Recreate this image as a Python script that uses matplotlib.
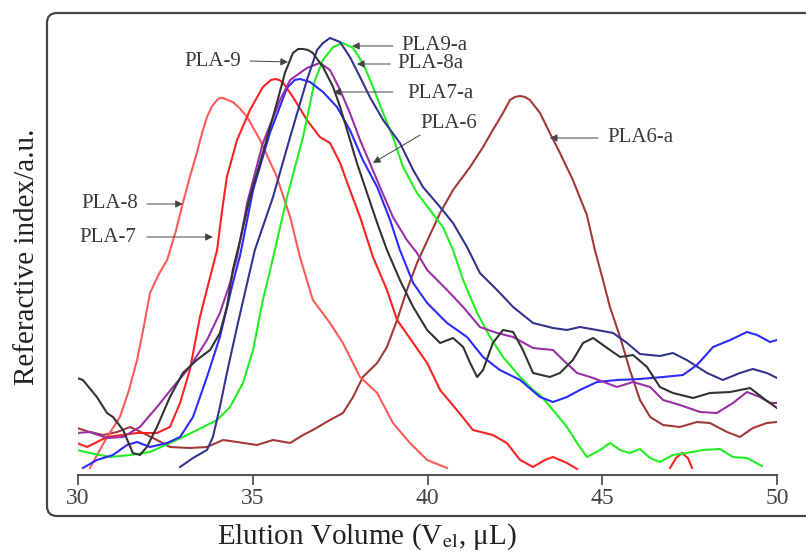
#!/usr/bin/env python3
"""
GPC elution curves of PLA samples (refractive index vs elution volume)
Output: out.png
"""

import numpy as np
import matplotlib
matplotlib.use("Agg")
import matplotlib.pyplot as plt
from matplotlib.patches import FancyBboxPatch

plt.rcParams["font.family"] = ["Liberation Serif", "DejaVu Serif"]
plt.rcParams["mathtext.fontset"] = "stix"

# --- data (elution volume, RI signal a.u.) ---
pla8_v = [30.34, 30.80, 31.20, 31.45, 31.69, 31.88, 32.06, 32.30, 32.55, 32.80, 33.00, 33.20,
          33.40, 33.55, 33.69, 33.84, 33.98, 34.06, 34.15, 34.28, 34.43, 34.62, 34.84,
          35.21, 35.69, 36.07, 36.35, 36.72, 37.21, 37.58, 38.07, 38.56, 39.01, 39.50, 39.99, 40.56]
pla8_ri = [1.75, 9, 14.5, 21, 28.75, 37, 45.5, 50, 53.75, 61, 68, 74.5,
           80.5, 85.5, 89.5, 92.25, 93.75, 94.25, 94.25, 93.75, 93.25, 91.75, 89.5,
           83.75, 74.5, 64.5, 54.5, 43.75, 38, 33, 24.5, 20.5, 13, 8, 3.75, 1.75]

pla7_v = [29.97, 30.26, 30.83, 31.69, 32.26, 32.63, 32.92, 33.20, 33.49, 33.78, 33.98, 34.12,
          34.26, 34.55, 34.92, 35.29, 35.52, 35.64, 35.76, 35.87, 36.15, 36.55, 36.92, 37.21,
          37.50, 37.78, 38.07, 38.44, 38.84, 39.13, 39.59, 39.99, 40.36, 40.84, 41.30, 41.87,
          42.27, 42.65, 43.02, 43.36, 43.59, 43.99, 44.28,
          np.nan, 46.94, 47.11, 47.28, 47.45, 47.57]
pla7_ri = [8, 7, 9.5, 10.5, 10.5, 12, 18, 26.25, 39.5, 49.5, 56.25, 66,
           74.5, 83.75, 91.25, 97, 98.75, 99, 98.75, 98, 94.5, 88.75, 84.5, 83,
           78, 71.25, 64.5, 54.5, 46.25, 38.75, 33, 28, 21.25, 16.25, 11.25, 10,
           8, 3.75, 2, 3.75, 4.5, 3, 1.5,
           np.nan, 1.75, 4.25, 5.5, 4.25, 1.75]

pla9_v = [29.97, 30.14, 30.54, 30.83, 31.00, 31.29, 31.57, 31.77, 31.97, 32.26, 32.63, 33.00,
          33.40, 33.78, 34.06, 34.26, 34.43, 34.64, 34.92, 35.29, 35.69, 35.92, 36.15, 36.30,
          36.44, 36.58, 36.72, 37.01, 37.30, 37.50, 37.70, 37.98, 38.27, 38.56, 38.84, 39.21,
          39.59, 39.99, 40.36, 40.73, 41.02, 41.22, 41.42, 41.59, 41.87, 42.16, 42.45, 42.73,
          43.02, 43.50, 43.79, 44.16, 44.45, 44.74, 45.14, 45.51, 45.88, 46.28, 46.65, 47.02,
          47.60, 48.08, 48.66, 49.23, 49.60, 50.00]
pla9_ri = [24.25, 23.75, 19.5, 15.5, 14.5, 11.25, 5.5, 5, 7, 12, 19.5, 25.5,
           28.75, 31.25, 35.5, 42, 51.25, 58.75, 69.5, 80.5, 93, 100.5, 105.5, 106.5,
           106.5, 106.25, 105.5, 102, 97, 92, 86.25, 78, 70.5, 63, 56.25, 48.75,
           42, 36.25, 33, 34.25, 32, 28, 24.5, 26.25, 33, 36.25, 35.75, 31.25,
           25.5, 24.5, 25.5, 28.75, 33, 34.25, 31.75, 29.5, 30, 27, 22, 20.5,
           19.25, 20.5, 20.75, 21.75, 19.25, 16.75]

pla6_v = [29.97, 30.34, 30.83, 31.29, 31.77, 32.26, 32.72, 33.20, 33.69, 34.06, 34.35, 34.55,
          34.84, 35.29, 35.78, 36.07, 36.55, 36.92, 37.21, 37.50, 37.78, 38.07, 38.35, 38.64,
          39.01, 39.41, 39.70, 39.99, 40.56, 41.02, 41.50, 41.99, 42.45, 43.02, 43.59, 43.88,
          44.28, 44.74, 45.42, 45.88, 46.37, 46.74, 47.22, 47.80, 48.28, 48.74, 49.14, 49.51,
          49.80, 50.00]
pla6_ri = [10.5, 10.75, 9.25, 9.5, 12, 17, 22, 27, 33.75, 40.5, 48, 54.5,
           68, 83, 93.75, 98.75, 101.75, 103, 101.25, 96.25, 90.5, 83.75, 78, 72,
           64.5, 58.75, 55.5, 51.25, 46.25, 42, 37, 35.5, 34.5, 31.75, 31.25, 28.75,
           25.5, 24.25, 22, 23.25, 22, 18.75, 17.5, 15.75, 15.5, 18, 20.75, 19.5,
           18, 18]

pla7a_v = [30.14, 30.54, 31.00, 31.40, 31.69, 32.06, 32.55, 32.92, 33.29, 33.69, 34.06, 34.43,
           34.64, 35.01, 35.49, 35.98, 36.20, 36.35, 36.64, 37.01, 37.41, 37.78, 38.15, 38.56,
           38.93, 39.21, 39.59, 39.99, 40.56, 41.13, 41.59, 42.07, 42.65, 43.22, 43.59, 43.99,
           44.36, 44.85, 45.42, 46.08, 46.74, 47.31, 47.71, 48.17, 48.66, 49.14, 49.43, 49.80,
           50.00]
pla7a_ri = [1.75, 3.75, 5, 7.5, 8.25, 7, 8, 9.5, 14.5, 24.5, 34.5, 48,
            55, 71.25, 85.5, 96.75, 98.75, 99, 98.25, 95.75, 92, 86.25, 78.75, 72,
            63.75, 56.25, 48, 43, 38, 34.5, 29.5, 26.25, 23.75, 19.5, 18.25, 19.5,
            21.25, 23.25, 23.75, 24, 24.5, 25, 27.5, 32, 33.75, 35.75, 35, 33.25,
            33.75]

pla8a_v = [32.92, 33.29, 33.69, 33.86, 34.06, 34.26, 34.55, 34.84, 35.06, 35.58, 36.07, 36.55,
           36.84, 37.01, 37.21, 37.50, 37.78, 38.07, 38.35, 38.73, 39.21, 39.59, 39.87, 40.36,
           40.73, 41.13, 41.50, 41.99, 42.45, 43.02, 43.59, 43.99, 44.36, 44.85, 45.31, 45.71,
           46.08, 46.65, 47.02, 47.42, 48.00, 48.45, 48.94, 49.31, 49.71, 50.00]
pla8a_ri = [2, 4.25, 6.25, 9.5, 17, 25.5, 37, 48, 56.25, 69.5, 84.5, 98.75,
            106.25, 108, 109.25, 108.25, 104.5, 99.5, 94.5, 88.75, 83, 76.25, 72, 67,
            63, 57, 50.5, 46.25, 42, 38, 36.75, 36.25, 37, 36.25, 35.5, 33,
            30.25, 29.75, 30.5, 28.75, 25.5, 23.75, 25.5, 26.5, 25.5, 24.25]

pla9a_v = [29.97, 30.34, 30.92, 31.49, 32.06, 32.63, 33.12, 33.58, 33.98, 34.35, 34.72, 35.01,
           35.29, 35.58, 35.98, 36.44, 36.78, 37.01, 37.30, 37.58, 37.87, 38.15, 38.44, 38.73,
           39.01, 39.30, 39.70, 40.07, 40.44, 40.73, 41.02, 41.42, 41.79, 42.16, 42.65, 43.02,
           43.22, 43.59, 43.99, 44.28, 44.56, 44.94, 45.22, 45.51, 45.79, 46.08, 46.37, 46.65,
           47.02, 47.42, 47.88, 48.37, 48.74, 49.14, 49.57]
pla9a_ri = [6.25, 5.5, 4.5, 5, 5.75, 8, 10, 12, 13.75, 17, 23, 31.25,
            43.75, 54.25, 69.5, 84.5, 98.75, 103.75, 107, 108, 106.75, 103, 97, 90.5,
            84.5, 77, 70.5, 66.25, 62, 56.25, 48.75, 40.5, 34.5, 29.5, 24.5, 21.25,
            20, 16.25, 12, 8, 4.5, 6.25, 8, 6.25, 5.5, 6.5, 4.25, 3.25,
            5, 5.5, 6.25, 6.5, 4.5, 4.25, 2.25]

pla6a_v = [29.97, 30.34, 30.72, 31.12, 31.49, 31.86, 32.26, 32.63, 33.20, 33.69, 34.15, 34.55,
           35.12, 35.58, 36.07, 36.44, 36.72, 37.21, 37.58, 37.87, 38.15, 38.56, 38.84, 39.13,
           39.41, 39.70, 39.87, 40.36, 40.73, 41.22, 41.59, 41.87, 42.16, 42.36, 42.50, 42.65,
           42.79, 42.93, 43.22, 43.50, 43.79, 44.16, 44.56, 44.79, 45.02, 45.22, 45.51, 45.79,
           46.08, 46.37, 46.74, 47.22, 47.71, 48.08, 48.57, 48.94, 49.31, 49.71, 50.00]
pla6a_ri = [11.75, 10.75, 10, 10.75, 12, 10.5, 8.75, 7, 6.75, 7, 8.75, 8.25,
            7.5, 8.75, 8, 10, 11.25, 13.75, 15.5, 19.5, 24.5, 28, 32, 38.75,
            46.25, 53, 56.25, 65.5, 71.25, 77, 82, 86.25, 90.5, 93.75, 94.5, 94.75,
            94.5, 93.75, 90.5, 85.5, 80.5, 73.75, 65, 56.25, 48.75, 42, 34.5, 26.25,
            18.75, 14.5, 12.5, 12, 13.25, 13, 10.75, 9.5, 11.75, 13, 13.25]

SERIES = [
    (pla6a_v, pla6a_ri, "#a33a3a"),
    (pla8_v, pla8_ri, "#ff5a5a"),
    (pla7_v, pla7_ri, "#ff2222"),
    (pla9a_v, pla9a_ri, "#22ee22"),
    (pla7a_v, pla7a_ri, "#2b2bff"),
    (pla6_v, pla6_ri, "#9a30a6"),
    (pla8a_v, pla8a_ri, "#34348f"),
    (pla9_v, pla9_ri, "#333333"),
]

# label, text position, arrow tail, arrow tip (volume, a.u.)
LABELS = [
    ("PLA-9",  (33.86, 103.25), (34.92, 103.5), (36.01, 103.25)),
    ("PLA9-a", (40.21, 107.25), (39.01, 107.25), (37.84, 107.25)),
    ("PLA-8a", (40.07, 102.75), (38.93, 102.75), (37.98, 102.75)),
    ("PLA7-a", (40.36, 95.5),   (39.01, 95.75), (37.30, 95.75)),
    ("PLA-6",  (40.62, 87.75),  (39.79, 85.0),  (38.44, 78.0)),
    ("PLA6-a", (46.08, 84.25),  (44.88, 84.25), (43.50, 84.25)),
    ("PLA-8",  (30.92, 68.0),   (31.97, 67.75), (33.00, 67.75)),
    ("PLA-7",  (30.86, 59.5),   (31.97, 59.5),  (33.86, 59.5)),
]

fig = plt.figure(figsize=(8.06, 5.56), dpi=100)
ax = fig.add_axes([78 / 806, 81 / 556, 699 / 806, 460 / 556])

for v, ri, c in SERIES:
    ax.plot(v, ri, color=c, lw=1.5, solid_joinstyle="round")

for name, txt, tail, tip in LABELS:
    ax.annotate("", xy=tip, xytext=tail,
                arrowprops=dict(arrowstyle="-|>", color="#444444", lw=0.7,
                                mutation_scale=11, shrinkA=0, shrinkB=0))
    ax.text(*txt, name, ha="center", va="center", fontsize=15,
            color="#3a3a3a")

ax.set_xlim(30, 50)
ax.set_ylim(0, 115)
ax.set_xticks([30, 35, 40, 45, 50])
ax.set_yticks([])
for s in ["left", "right", "top"]:
    ax.spines[s].set_visible(False)
ax.spines["bottom"].set_color("#555555")
ax.spines["bottom"].set_linewidth(1.5)
ax.tick_params(axis="x", direction="out", length=7, width=1.3, color="#555555",
               labelsize=17, labelcolor="#444444", pad=2)

fig.text(367 / 806, 1 - 537 / 556, r"Elution Volume (V$_{\rm el}$, μL)",
         ha="center", va="center", fontsize=21, color="#222222")
fig.text(27 / 806, 1 - 257 / 556, "Referactive index/a.u.", rotation=90,
         ha="center", va="center", fontsize=21, color="#222222")

# rounded frame around the plot
frame = FancyBboxPatch((0.47, 0.40), 7.70, 5.03, boxstyle="round,pad=0,rounding_size=0.1",
                       transform=fig.dpi_scale_trans, fill=False, ec="#444444", lw=1.6,
                       clip_on=False)
fig.patches.append(frame)

fig.savefig("out.png", dpi=100)
